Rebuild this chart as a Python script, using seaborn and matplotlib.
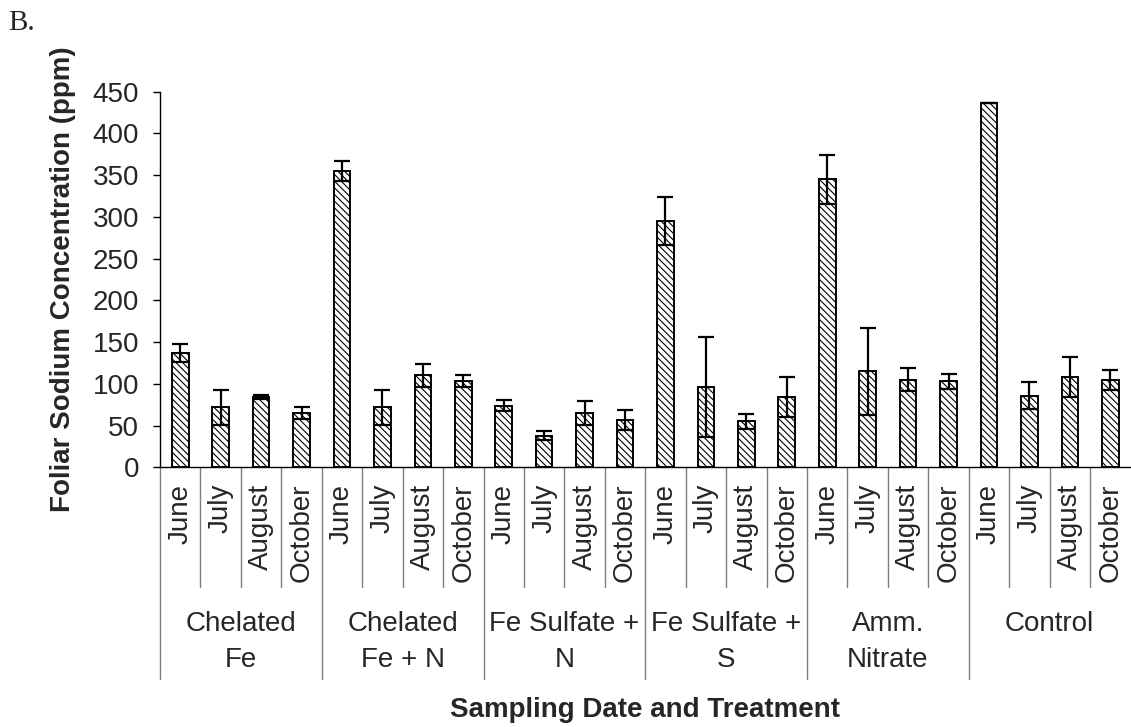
import matplotlib
matplotlib.use("Agg")
import matplotlib.pyplot as plt
from matplotlib.lines import Line2D
from matplotlib import transforms
import seaborn as sns
import pandas as pd

# Foliar sodium data (ppm): mean and error per treatment, by sampling month
months = ["June", "July", "August", "October"]
treatments = ["Chelated\nFe", "Chelated\nFe + N", "Fe Sulfate +\nN",
              "Fe Sulfate +\nS", "Amm.\nNitrate", "Control"]

chelated_fe = [137, 72, 84, 65]
chelated_fe_n = [355, 72, 110, 103]
fe_sulfate_n = [74, 38, 65, 57]
fe_sulfate_s = [295, 96, 55, 84]
amm_nitrate = [345, 115, 105, 103]
control = [436, 86, 108, 105]

chelated_fe_err = [11, 21, 2.5, 7]
chelated_fe_n_err = [12, 21, 14, 7]
fe_sulfate_n_err = [7, 5, 14, 12]
fe_sulfate_s_err = [29, 60, 9, 24]
amm_nitrate_err = [29, 52, 14, 9]
control_err = [0, 16, 24, 12]

y_ticks = [0, 50, 100, 150, 200, 250, 300, 350, 400, 450]

means = [chelated_fe, chelated_fe_n, fe_sulfate_n, fe_sulfate_s, amm_nitrate, control]
errs = [chelated_fe_err, chelated_fe_n_err, fe_sulfate_n_err, fe_sulfate_s_err,
        amm_nitrate_err, control_err]

rows = []
for t, (m_vals, e_vals) in enumerate(zip(means, errs)):
    for mi, month in enumerate(months):
        rows.append({"slot": f"{t}-{month}", "treatment": treatments[t],
                     "month": month, "value": m_vals[mi], "err": e_vals[mi]})
df = pd.DataFrame(rows)
order = list(df["slot"])

sns.set_style("white")
plt.rcParams["font.family"] = ["Liberation Sans", "DejaVu Sans"]
plt.rcParams["hatch.linewidth"] = 0.8

W, H = 1131, 727
fig = plt.figure(figsize=(W / 100, H / 100), dpi=100)
ax_left, ax_right, ax_top, ax_bottom = 160, 1130.5, 91.7, 467.3
ax = fig.add_axes([ax_left / W, 1 - ax_bottom / H,
                   (ax_right - ax_left) / W, (ax_bottom - ax_top) / H])

sns.barplot(data=df, x="slot", y="value", order=order, ax=ax,
            color="white", saturation=1, width=0.41, errorbar=None,
            edgecolor="black", linewidth=1.4, hatch="\\\\\\\\\\")

pos = list(range(len(df)))
ax.errorbar(pos, df["value"], yerr=df["err"], fmt="none", ecolor="black",
            elinewidth=1.6, capsize=6, capthick=1.6, zorder=5)

n = len(df)
ax.set_xlim(-0.5, n - 0.5)
ax.set_ylim(0, 450)
ax.set_yticks(y_ticks)
ax.set_yticklabels([str(v) for v in y_ticks], fontsize=20)
ax.tick_params(axis="y", direction="out", length=5, width=1, color="black",
               pad=10, left=True)
ax.set_xticks([])
ax.set_xlabel("")
ax.set_ylabel("")
for side in ("top", "right"):
    ax.spines[side].set_visible(False)
for side in ("left", "bottom"):
    ax.spines[side].set_color("black")
    ax.spines[side].set_linewidth(1.0)

# Two-level category axis below the plot
tr = transforms.blended_transform_factory(ax.transData, fig.transFigure)

def fy(px):
    return 1 - px / H

for i, row in df.iterrows():
    ax.text(i, fy(484), row["month"], rotation=90, ha="center", va="top",
            fontsize=20, transform=tr, clip_on=False)

sep_color = "#7f7f7f"
for k in range(n):
    x = k - 0.5
    if k % 4 == 0:
        y_end = 679
    else:
        y_end = 587
    ax.add_line(Line2D([x, x], [fy(ax_bottom), fy(y_end)], transform=tr,
                       color=sep_color, lw=1.0, clip_on=False))

for t, name in enumerate(treatments):
    xc = t * 4 + 1.5
    ax.text(xc, fy(611), name, ha="center", va="top", fontsize=20,
            linespacing=1.5, transform=tr, clip_on=False)

fig.text((ax_left + ax_right) / 2 / W, fy(717), "Sampling Date and Treatment",
         ha="center", va="baseline", fontsize=20, fontweight="bold")
fig.text(63 / W, fy((ax_top + ax_bottom) / 2), "Foliar Sodium Concentration (ppm)",
         ha="center", va="center", rotation=90, fontsize=20, fontweight="bold")
fig.text(8 / W, fy(30), "B.", ha="left", va="baseline", fontsize=21,
         family=["Liberation Serif", "DejaVu Serif"])

fig.savefig("out.png", dpi=100)
